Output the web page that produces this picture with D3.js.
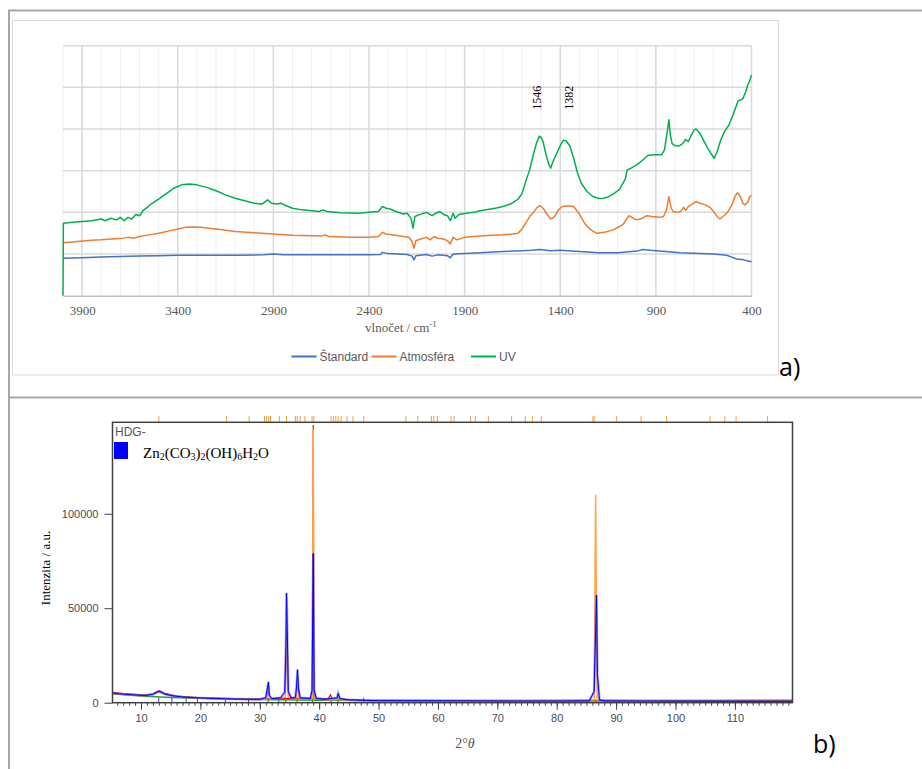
<!DOCTYPE html>
<html>
<head>
<meta charset="utf-8">
<script src="https://cdn.jsdelivr.net/npm/d3@7"></script>
<style>
  body { margin: 0; background: #fff; }
  svg { display: block; }
</style>
</head>
<body>
<svg id="fig" width="922" height="769"></svg>
<script>
// --- FTIR (panel a) data: [wavenumber, absorbance (arb. units, 1 unit = one gridline)] ---
const ftirTicks = [3900, 3400, 2900, 2400, 1900, 1400, 900, 400];
const ftirSeriesNames = ["Štandard", "Atmosféra", "UV"];
const ftirColors = ["#4472c4", "#ed7d31", "#00b050"];
const ftirPeaks = [{ label: "1546", wave: 1546 }, { label: "1382", wave: 1382 }];

const standardSpectrum = [
  [4000,0.90],[3900,0.91],[3800,0.93],[3700,0.94],[3600,0.95],[3500,0.96],[3400,0.97],[3300,0.97],
  [3100,0.97],[2950,0.98],[2900,1.00],[2850,0.98],[2700,0.98],[2500,0.98],[2400,0.98],[2340,0.99],
  [2330,1.04],[2300,1.01],[2200,0.99],[2175,0.95],[2165,0.86],[2155,0.96],[2100,0.99],[2070,0.95],
  [2040,0.98],[1990,0.96],[1975,0.91],[1960,1.00],[1900,1.01],[1820,1.03],[1700,1.06],[1600,1.08],
  [1550,1.09],[1510,1.11],[1450,1.08],[1400,1.09],[1300,1.06],[1200,1.03],[1100,1.03],[1000,1.07],
  [967,1.11],[930,1.09],[850,1.06],[774,1.03],[700,1.02],[600,1.00],[530,0.97],[500,0.92],
  [478,0.88],[440,0.86],[408,0.82],[400,0.82]
];

const atmosferaSpectrum = [
  [4000,1.27],[3950,1.29],[3900,1.31],[3850,1.33],[3800,1.34],[3750,1.36],[3700,1.37],[3660,1.40],
  [3630,1.38],[3600,1.42],[3550,1.46],[3500,1.50],[3450,1.55],[3400,1.60],[3360,1.64],[3320,1.65],
  [3280,1.64],[3240,1.62],[3200,1.60],[3150,1.57],[3100,1.54],[3000,1.51],[2900,1.48],[2800,1.45],
  [2700,1.44],[2650,1.43],[2630,1.46],[2610,1.42],[2500,1.40],[2400,1.40],[2350,1.42],[2330,1.52],
  [2310,1.48],[2280,1.46],[2220,1.42],[2190,1.40],[2175,1.30],[2165,1.14],[2155,1.32],[2130,1.36],
  [2100,1.40],[2080,1.34],[2060,1.42],[2040,1.38],[2010,1.36],[1990,1.32],[1975,1.24],[1960,1.40],
  [1940,1.34],[1900,1.40],[1850,1.42],[1800,1.44],[1750,1.45],[1700,1.46],[1650,1.48],[1620,1.50],
  [1600,1.60],[1580,1.75],[1560,1.90],[1540,2.00],[1520,2.12],[1505,2.16],[1490,2.10],[1470,1.96],
  [1450,1.84],[1430,1.90],[1410,2.06],[1390,2.14],[1360,2.16],[1330,2.14],[1300,1.96],[1270,1.72],
  [1240,1.58],[1210,1.50],[1170,1.52],[1123,1.58],[1090,1.66],[1070,1.72],[1050,1.86],[1040,1.92],
  [1020,1.86],[1000,1.82],[970,1.86],[948,1.92],[920,1.90],[880,1.88],[860,1.90],[845,2.05],
  [832,2.38],[820,2.10],[809,2.02],[790,2.00],[770,2.02],[755,2.12],[745,2.05],[730,2.14],
  [710,2.20],[690,2.26],[670,2.22],[640,2.18],[618,2.12],[595,2.00],[580,1.90],[565,1.84],
  [545,1.92],[530,1.98],[520,2.04],[500,2.20],[485,2.40],[473,2.47],[460,2.40],[445,2.22],
  [435,2.18],[420,2.24],[408,2.38],[400,2.40]
];

const uvSpectrum = [
  [4000,0.00],[3998,1.74],[3950,1.76],[3900,1.78],[3850,1.80],[3800,1.84],[3780,1.80],[3750,1.86],
  [3720,1.82],[3700,1.88],[3680,1.80],[3660,1.88],[3640,1.84],[3620,1.95],[3600,1.92],[3580,2.05],
  [3560,2.12],[3540,2.20],[3500,2.32],[3460,2.45],[3420,2.58],[3380,2.66],[3340,2.68],[3300,2.66],
  [3250,2.60],[3200,2.52],[3150,2.42],[3100,2.34],[3050,2.28],[3000,2.22],[2960,2.20],[2930,2.30],
  [2910,2.22],[2880,2.20],[2860,2.22],[2840,2.17],[2800,2.10],[2750,2.06],[2700,2.04],[2660,2.02],
  [2640,2.06],[2620,2.02],[2550,1.99],[2450,1.98],[2400,2.00],[2350,2.02],[2330,2.14],[2310,2.10],
  [2290,2.08],[2260,2.02],[2220,1.96],[2200,1.98],[2180,1.85],[2170,1.62],[2160,1.90],[2140,1.94],
  [2100,2.00],[2070,1.92],[2050,1.98],[2030,2.02],[2010,1.95],[1990,1.92],[1975,1.80],[1960,1.98],
  [1950,1.86],[1930,1.95],[1900,1.97],[1850,2.00],[1820,2.04],[1780,2.07],[1740,2.10],[1700,2.14],
  [1660,2.20],[1620,2.32],[1600,2.45],[1580,2.75],[1560,3.02],[1540,3.40],[1525,3.65],[1510,3.83],
  [1500,3.80],[1490,3.70],[1475,3.40],[1460,3.15],[1450,3.06],[1440,3.20],[1420,3.40],[1400,3.60],
  [1385,3.73],[1370,3.72],[1350,3.60],[1330,3.30],[1310,2.95],[1290,2.70],[1260,2.50],[1230,2.38],
  [1200,2.34],[1180,2.33],[1150,2.37],[1120,2.45],[1090,2.55],[1060,2.80],[1050,3.02],[1030,3.06],
  [1000,3.14],[970,3.25],[940,3.37],[900,3.38],[870,3.38],[855,3.50],[840,3.95],[832,4.22],
  [824,3.85],[815,3.65],[800,3.60],[780,3.59],[760,3.65],[745,3.75],[730,3.70],[715,3.85],
  [700,3.98],[690,4.00],[670,3.90],[650,3.72],[630,3.55],[610,3.40],[595,3.30],[580,3.45],
  [560,3.75],[540,3.95],[520,4.08],[500,4.30],[480,4.55],[470,4.68],[455,4.70],[445,4.73],
  [430,4.90],[420,5.05],[410,5.15],[400,5.30]
];

// --- XRD (panel b) data: [2theta, intensity] ---
const xrdYTicks = [0, 50000, 100000];
const xrdXTicks = [10, 20, 30, 40, 50, 60, 70, 80, 90, 100, 110];

const xrdBackground = [
  [5.2,4800],[10,3500],[15,2800],[20,2300],[30,1700],[40,1300],[50,1200],[70,1100],[90,1200],[119.7,1300]
];
const xrdRed = [
  [5.2,5500],[7,4800],[10,4200],[12,4600],[13,6200],[14,4900],[16,3500],[20,2600],[30,1900],
  [38.9,2500],[39.0,147000],[39.1,2500],[41.5,2000],[41.9,4200],[42.2,2000],[50,1000],[70,900],
  [100,900],[110,800],[119.7,800]
];
const xrdCalc = [
  [5.2,5000],[8,4200],[10,3800],[12,4300],[13,5500],[14,4400],[17,2900],[20,2400],[25,2000],
  [30,1600],[31.2,2000],[31.45,8500],[31.7,2000],[34.3,3000],[34.55,39000],[34.8,3000],[36.2,2500],
  [36.4,14000],[36.6,2500],[38.85,2500],[39.0,145000],[39.15,2500],[41,1500],[43.0,1600],[43.2,4000],
  [43.4,1500],[50,900],[70,800],[86.3,1500],[86.55,110000],[86.8,1500],[100,700],[119.7,700]
];
const xrdObserved = [
  [5.2,5200],[6,4800],[8,4300],[10,3900],[11,3900],[12,4500],[12.8,5800],[13.2,6000],[14,4600],
  [15,3800],[17,3000],[20,2500],[24,2100],[28,1800],[30,1800],[31.0,2600],[31.3,8000],[31.45,11000],
  [31.6,4000],[32,2200],[33.5,2600],[34.2,5500],[34.4,30000],[34.5,58000],[34.62,40000],[34.8,6000],
  [35.3,2500],[36.0,2800],[36.2,9000],[36.35,17500],[36.5,8000],[36.8,2600],[38.5,2200],[38.8,6500],
  [39.0,79000],[39.15,7000],[39.5,2200],[41,1800],[42,2200],[43,2500],[43.2,5000],[43.5,2200],
  [45,1500],[48,1200],[50,1100],[60,1000],[70,900],[80,900],[85.5,1000],[86.3,6000],[86.45,25000],
  [86.7,57000],[86.85,15000],[87.2,1500],[88,1000],[100,800],[119.7,700]
];
const refSticks = [13.0, 15.2, 17.6, 19.5, 24.2, 28.1, 31.4, 33.2, 34.4, 36.3, 38.9, 42.0, 43.2, 47.5];
const refTopTicks = [
  13.0, 24.4, 28.2, 30.8, 31.1, 31.5, 31.8, 33.3, 34.5, 36.0, 36.3, 36.8, 37.6, 38.8, 39.1,
  42.0, 42.4, 42.8, 43.2, 43.7, 44.7, 45.7, 47.5, 54.6, 56.6, 58.9, 59.3, 59.9, 62.2, 62.7,
  65.5, 66.3, 68.5, 72.4, 74.7, 75.9, 77.4, 86.1, 86.3, 90.1, 94.2, 98.5, 105.8, 108.3, 110.2, 115.5
];

const svg = d3.select("#fig");
svg.append("rect").attr("width", 922).attr("height", 769).attr("fill", "#fff");

// --- Outer frame lines ---
const frame = svg.append("g").attr("stroke", "#a6a6a6").attr("stroke-width", 2);
frame.append("line").attr("x1", 8).attr("x2", 922).attr("y1", 10.5).attr("y2", 10.5);
frame.append("line").attr("x1", 9).attr("x2", 9).attr("y1", 10).attr("y2", 769);
frame.append("line").attr("x1", 8).attr("x2", 922).attr("y1", 397.5).attr("y2", 397.5);

// ================= PANEL A =================
svg.append("rect")
  .attr("x", 12.5).attr("y", 20.5).attr("width", 766).attr("height", 354.5)
  .attr("fill", "#fff").attr("stroke", "#d9d9d9");

const xA = d3.scaleLinear().domain([4000, 400]).range([63, 751.5]);
const yA = d3.scaleLinear().domain([0, 6]).range([295.7, 45.7]);

const gA = svg.append("g");

// Gridlines (minor every 100, major every 500)
const waveGrid = d3.range(400, 4001, 100);
gA.selectAll(".vgrid").data(waveGrid).enter().append("line")
  .attr("x1", d => xA(d)).attr("x2", d => xA(d))
  .attr("y1", yA(6)).attr("y2", yA(0))
  .attr("stroke", d => ftirTicks.includes(d) ? "#d9d9d9" : "#efefef")
  .attr("stroke-width", d => ftirTicks.includes(d) ? 1.5 : 1);

gA.selectAll(".hgrid").data(d3.range(1, 7)).enter().append("line")
  .attr("x1", xA(4000)).attr("x2", xA(400))
  .attr("y1", d => yA(d)).attr("y2", d => yA(d))
  .attr("stroke", "#d9d9d9").attr("stroke-width", 1.5);

// X axis
const xAxisA = gA.append("g")
  .attr("transform", `translate(0,${yA(0)})`)
  .call(d3.axisBottom(xA).tickValues(ftirTicks).tickSize(0).tickPadding(10).tickFormat(d3.format("d")));
xAxisA.select(".domain").attr("stroke", "#bfbfbf").attr("stroke-width", 1.5);
xAxisA.selectAll("text")
  .attr("fill", "#595959")
  .style("font-family", "'Liberation Serif', serif")
  .style("font-size", "13px");

gA.append("text")
  .attr("x", 401).attr("y", 332)
  .attr("text-anchor", "middle")
  .attr("fill", "#595959")
  .style("font-family", "'Liberation Serif', serif")
  .style("font-size", "13px")
  .text("vlnočet / cm")
  .append("tspan").attr("dy", -5).style("font-size", "9px").text("-1");

// Lines
const lineA = d3.line().x(d => xA(d[0])).y(d => yA(d[1]));
[standardSpectrum, atmosferaSpectrum, uvSpectrum].forEach((s, i) => {
  gA.append("path")
    .datum(s)
    .attr("d", lineA)
    .attr("fill", "none")
    .attr("stroke", ftirColors[i])
    .attr("stroke-width", 1.5)
    .attr("stroke-linejoin", "round");
});

// Peak labels (rotated)
gA.selectAll(".peak").data(ftirPeaks).enter().append("text")
  .attr("transform", d => `translate(${xA(d.wave) + 9},${yA(4.75)}) rotate(-90)`)
  .attr("text-anchor", "middle")
  .attr("fill", "#000")
  .style("font-family", "'Liberation Serif', serif")
  .style("font-size", "12px")
  .text(d => d.label);

// Legend
const legendX = [291.5, 371.5, 471];
const legA = gA.selectAll(".leg").data(ftirSeriesNames).enter().append("g")
  .attr("transform", (d, i) => `translate(${legendX[i]},356.5)`);
legA.append("line").attr("x1", 0).attr("x2", 25)
  .attr("stroke", (d, i) => ftirColors[i]).attr("stroke-width", 2);
legA.append("text").attr("x", 28).attr("y", 4)
  .attr("fill", "#595959")
  .style("font-family", "'Liberation Sans Narrow', 'Liberation Sans', sans-serif")
  .style("font-size", "12px")
  .text(d => d);

svg.append("text").attr("x", 779).attr("y", 376)
  .style("font-family", "'Open Sans', sans-serif")
  .style("font-size", "25px")
  .attr("fill", "#000")
  .text("a)");

// ================= PANEL B =================
const xB = d3.scaleLinear().domain([5.2, 119.7]).range([112.5, 792.5]);
const yB = d3.scaleLinear().domain([0, 148400]).range([702.7, 422.3]);
const gB = svg.append("g");

// Clip for the plot area
svg.append("clipPath").attr("id", "clipB")
  .append("rect").attr("x", xB(5.2)).attr("y", yB(148400))
  .attr("width", xB(119.7) - xB(5.2)).attr("height", yB(0) - yB(148400));

// Top reference ticks
gB.selectAll(".toptick").data(refTopTicks).enter().append("line")
  .attr("x1", d => xB(d)).attr("x2", d => xB(d))
  .attr("y1", 416).attr("y2", 422)
  .attr("stroke", "#f5a048").attr("stroke-width", 1);

const plotB = gB.append("g").attr("clip-path", "url(#clipB)");
const lineB = d3.line().x(d => xB(d[0])).y(d => yB(d[1]));

// reference sticks
plotB.selectAll(".stick").data(refSticks).enter().append("line")
  .attr("x1", d => xB(d)).attr("x2", d => xB(d))
  .attr("y1", yB(0)).attr("y2", yB(2600))
  .attr("stroke", "#3a3aff").attr("stroke-width", 1);

plotB.append("path").datum(xrdBackground).attr("d", lineB)
  .attr("fill", "none").attr("stroke", "#2ca02c").attr("stroke-width", 1.5);
plotB.append("path").datum(xrdRed).attr("d", lineB)
  .attr("fill", "none").attr("stroke", "#ff0000").attr("stroke-width", 1.2);
plotB.append("path").datum(xrdCalc).attr("d", lineB)
  .attr("fill", "none").attr("stroke", "#ffa347").attr("stroke-width", 1.5);
plotB.append("path").datum(xrdObserved).attr("d", lineB)
  .attr("fill", "none").attr("stroke", "#5050ff").attr("stroke-opacity", 0.5).attr("stroke-width", 2.5);
plotB.append("path").datum(xrdObserved).attr("d", lineB)
  .attr("fill", "none").attr("stroke", "#0000ff").attr("stroke-width", 1);

// Frame
gB.append("rect")
  .attr("x", xB(5.2)).attr("y", yB(148400))
  .attr("width", xB(119.7) - xB(5.2)).attr("height", yB(0) - yB(148400))
  .attr("fill", "none").attr("stroke", "#404040").attr("stroke-width", 1.5);

// Y axis
const yAxisB = gB.append("g")
  .attr("transform", `translate(${xB(5.2)},0)`)
  .call(d3.axisLeft(yB).tickValues(xrdYTicks).tickSize(8).tickPadding(6).tickFormat(d3.format("d")));
yAxisB.select(".domain").remove();
yAxisB.selectAll("line").attr("stroke", "#404040");
yAxisB.selectAll("text")
  .attr("fill", "#4a4a5a")
  .style("font-family", "'Liberation Sans', sans-serif")
  .style("font-size", "11px");

// X axis: minor ticks every 1 degree, major every 10
const xAxisB = gB.append("g").attr("transform", `translate(0,${yB(0)})`);
xAxisB.call(d3.axisBottom(xB).tickValues(d3.range(6, 120, 1)).tickSize(3).tickFormat(""));
xAxisB.select(".domain").remove();
xAxisB.selectAll("line").attr("stroke", "#404040");
const xAxisB2 = gB.append("g").attr("transform", `translate(0,${yB(0)})`)
  .call(d3.axisBottom(xB).tickValues(xrdXTicks).tickSize(7).tickPadding(5));
xAxisB2.select(".domain").remove();
xAxisB2.selectAll("line").attr("stroke", "#404040");
xAxisB2.selectAll("text")
  .attr("fill", "#4a4a5a")
  .style("font-family", "'Liberation Sans', sans-serif")
  .style("font-size", "11px");

// Axis titles
gB.append("text")
  .attr("transform", "translate(50,568) rotate(-90)")
  .attr("text-anchor", "middle")
  .attr("fill", "#000")
  .style("font-family", "'Liberation Serif', serif")
  .style("font-size", "13px")
  .text("Intenzita / a.u.");

const tt = gB.append("text")
  .attr("x", 465).attr("y", 748)
  .attr("text-anchor", "middle")
  .attr("fill", "#555")
  .style("font-family", "'Liberation Serif', serif")
  .style("font-size", "14px");
tt.append("tspan").text("2°");
tt.append("tspan").style("font-style", "italic").text("θ");

// Legend
gB.append("text").attr("x", 115).attr("y", 436)
  .attr("fill", "#555")
  .style("font-family", "'Liberation Sans', sans-serif")
  .style("font-size", "12px")
  .text("HDG-");
gB.append("rect").attr("x", 114).attr("y", 442).attr("width", 14).attr("height", 17).attr("fill", "#0000ff");
const formula = gB.append("text").attr("x", 143).attr("y", 458)
  .attr("fill", "#000")
  .style("font-family", "'Liberation Serif', serif")
  .style("font-size", "15px");
const formulaParts = [["Zn", false], ["2", true], ["(CO", false], ["3", true], [")", false], ["2", true],
  ["(OH)", false], ["6", true], ["H", false], ["2", true], ["O", false]];
formulaParts.forEach(([t, sub], i) => {
  const prevSub = i > 0 && formulaParts[i - 1][1];
  formula.append("tspan")
    .attr("dy", sub ? 2 : (prevSub ? -2 : 0))
    .style("font-size", sub ? "10px" : "15px")
    .text(t);
});

svg.append("text").attr("x", 813).attr("y", 753)
  .style("font-family", "'Open Sans', sans-serif")
  .style("font-size", "25px")
  .attr("fill", "#000")
  .text("b)");
</script>
</body>
</html>
